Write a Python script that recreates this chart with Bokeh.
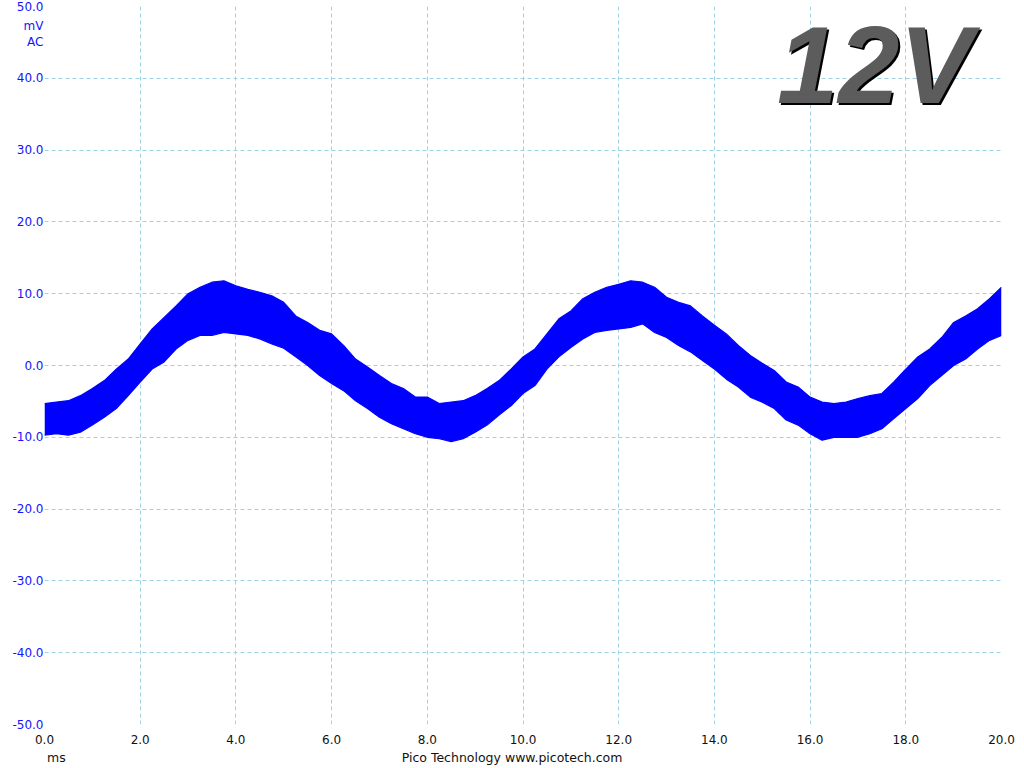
from bokeh.plotting import figure
from bokeh.models import Range1d, FixedTicker, NumeralTickFormatter, Label, LinearAxis
from bokeh.embed import file_html
from bokeh.resources import INLINE

# time axis (ms) of the envelope readings
time_ms = [0.0, 0.25, 0.5, 0.75, 1.0, 1.25, 1.5, 1.75, 2.0, 2.25, 2.5, 2.75,
           3.0, 3.25, 3.5, 3.75, 4.0, 4.25, 4.5, 4.75, 5.0, 5.25, 5.5, 5.75,
           6.0, 6.25, 6.5, 6.75, 7.0, 7.25, 7.5, 7.75, 8.0, 8.25, 8.5, 8.75,
           9.0, 9.25, 9.5, 9.75, 10.0, 10.25, 10.5, 10.75, 11.0, 11.25, 11.5, 11.75,
           12.0, 12.25, 12.5, 12.75, 13.0, 13.25, 13.5, 13.75, 14.0, 14.25, 14.5, 14.75,
           15.0, 15.25, 15.5, 15.75, 16.0, 16.25, 16.5, 16.75, 17.0, 17.25, 17.5, 17.75,
           18.0, 18.25, 18.5, 18.75, 19.0, 19.25, 19.5, 19.75, 20.0]

# upper edge of the noisy trace (mV)
upper_mv = [-5.3, -5.1, -4.9, -4.2, -3.2, -2.1, -0.5, 0.9, 3.0, 5.1, 6.7, 8.3,
            10.0, 10.9, 11.6, 11.8, 11.1, 10.6, 10.2, 9.7, 8.8, 6.9, 6.0, 4.9,
            4.4, 2.8, 0.9, -0.2, -1.4, -2.5, -3.2, -4.4, -4.4, -5.3, -5.1, -4.9,
            -4.2, -3.2, -2.1, -0.5, 1.2, 2.3, 4.4, 6.5, 7.6, 9.3, 10.2, 10.9,
            11.3, 11.8, 11.6, 10.9, 9.5, 8.8, 8.3, 6.9, 5.6, 4.4, 2.8, 1.4,
            0.3, -0.7, -2.3, -3.0, -4.4, -5.1, -5.3, -5.1, -4.6, -4.2, -3.9, -2.3,
            -0.5, 1.2, 2.3, 3.9, 6.0, 6.9, 7.9, 9.3, 10.9]

# lower edge of the noisy trace (mV)
lower_mv = [-9.7, -9.5, -9.7, -9.3, -8.3, -7.2, -6.0, -4.2, -2.3, -0.5, 0.5, 2.3,
            3.5, 4.2, 4.2, 4.6, 4.4, 4.2, 3.7, 3.0, 2.4, 1.2, 0.0, -1.4,
            -2.5, -3.5, -4.9, -6.0, -7.2, -8.1, -8.8, -9.5, -10.0, -10.2, -10.6, -10.2,
            -9.3, -8.3, -6.9, -5.6, -3.9, -2.8, -0.5, 1.2, 2.5, 3.7, 4.6, 4.9,
            5.1, 5.3, 5.8, 4.6, 3.9, 2.8, 1.9, 0.7, -0.5, -1.9, -3.0, -4.4,
            -5.1, -6.0, -7.6, -8.3, -9.5, -10.4, -10.0, -10.0, -10.0, -9.5, -8.8, -7.4,
            -6.0, -4.6, -2.8, -1.4, 0.0, 0.9, 2.3, 3.5, 4.2]

x_ticks = [0, 2, 4, 6, 8, 10, 12, 14, 16, 18, 20]
y_ticks = [-50, -40, -30, -20, -10, 0, 10, 20, 30, 40, 50]

# unit captions shown beside the axes (placed at extra, gridless ticks)
y_unit_ticks = [47.25, 45.0]
y_unit_text = ["mV", "AC"]
x_note_ticks = [0.25, 9.8125]
x_note_text = ["ms", "Pico Technology  www.picotech.com"]

badge_text = "12V"

FONT = "DejaVu Sans"
BLUE = "#1414ff"
GRID = "#9dd3e2"
TRACE = "#0000ff"
INK = "#111111"

p = figure(width=1024, height=768, output_backend="svg", toolbar_location=None,
           x_range=Range1d(0, 20), y_range=Range1d(-50, 50),
           min_border_left=44, min_border_right=23, min_border_top=6, min_border_bottom=44)
p.outline_line_color = None
p.background_fill_color = "white"
p.border_fill_color = "white"

p.xaxis.ticker = FixedTicker(ticks=x_ticks)
p.yaxis.ticker = FixedTicker(ticks=y_ticks + y_unit_ticks)
p.yaxis.major_label_overrides = dict(zip(y_unit_ticks, y_unit_text))

for ax in (p.xaxis, p.yaxis):
    ax.formatter = NumeralTickFormatter(format="0.0")
    ax.axis_line_color = None
    ax.major_tick_line_color = None
    ax.minor_tick_line_color = None
    ax.major_tick_out = 0
    ax.major_tick_in = 0
    ax.minor_tick_out = 0
    ax.minor_tick_in = 0
    ax.major_label_text_font = FONT
    ax.major_label_text_font_size = "12px"

p.xaxis.major_label_text_color = INK
p.xaxis.major_label_standoff = 10
p.yaxis.major_label_text_color = BLUE
p.yaxis.major_label_standoff = 1

# second row under the time axis: "ms" and the vendor line
note_axis = LinearAxis(ticker=FixedTicker(ticks=x_note_ticks),
                       major_label_overrides=dict(zip(x_note_ticks, x_note_text)),
                       axis_line_color=None, major_tick_line_color=None,
                       minor_tick_line_color=None, major_tick_out=0, major_tick_in=0,
                       minor_tick_out=0, minor_tick_in=0, major_label_standoff=3,
                       major_label_text_font=FONT, major_label_text_font_size="12.5px",
                       major_label_text_color=INK)
p.add_layout(note_axis, "below")

p.xgrid.ticker = FixedTicker(ticks=x_ticks)
p.ygrid.ticker = FixedTicker(ticks=y_ticks)
for g in (p.xgrid, p.ygrid):
    g.grid_line_color = GRID
    g.grid_line_dash = "4 3"
    g.grid_line_width = 1

p.varea(x=time_ms, y1=lower_mv, y2=upper_mv, fill_color=TRACE)
p.line(x=time_ms, y=upper_mv, line_color=TRACE, line_width=1.2)
p.line(x=time_ms, y=lower_mv, line_color=TRACE, line_width=1.2)

# big "12V" badge: dark shadow layer + grey face
for col, dx, dy in (("#000000", 0, 0), ("#5c5c5c", -2, 2)):
    p.add_layout(Label(x=15.35, y=41.6, x_offset=dx, y_offset=dy, text=badge_text,
                       text_font="Liberation Sans", text_font_size="110px",
                       text_font_style="bold italic", text_color=col,
                       text_align="left", text_baseline="middle"))

open("out.html", "w").write(file_html(p, INLINE))
